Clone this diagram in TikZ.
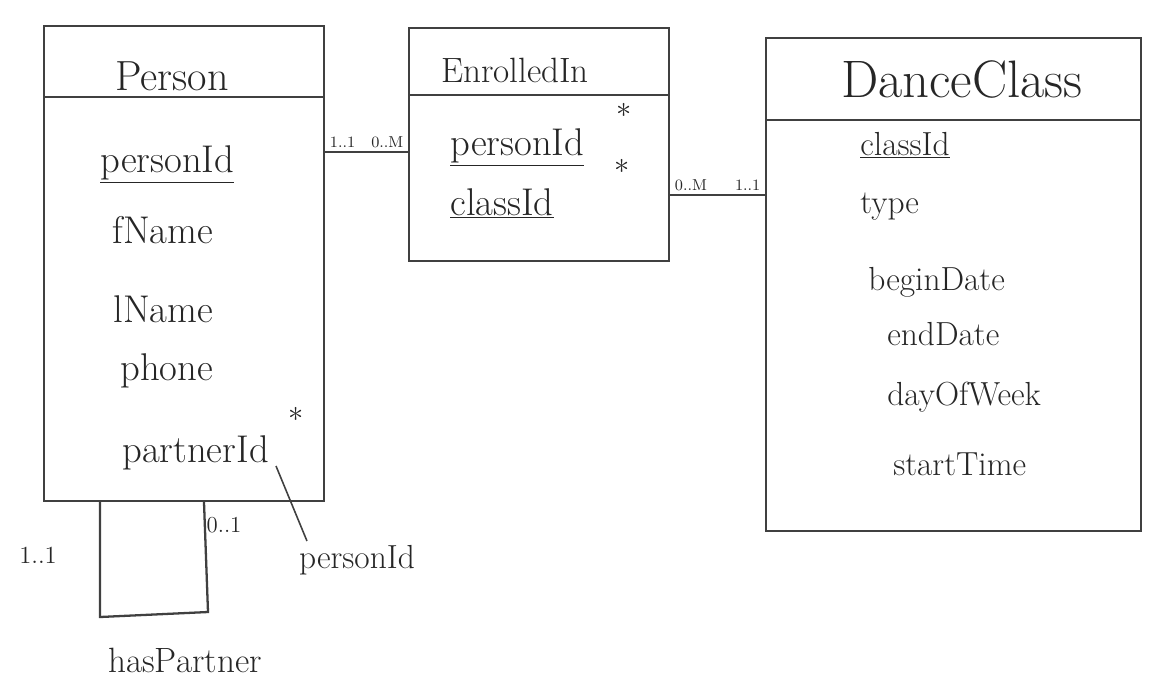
\documentclass[tikz,border=0pt]{standalone}
\usetikzlibrary{calc}
\tikzstyle{entity}=[draw,line width=1.3pt,black!75,rectangle,inner sep=0pt,anchor=north west]
\tikzstyle{entitytitle}=[anchor=base,text=black!85,inner sep=0pt]
\tikzstyle{attr}=[anchor=base west,text=black!85,inner sep=0pt,font=\fontsize{22}{26}\selectfont]
\tikzstyle{smallattr}=[attr,font=\fontsize{19}{23}\selectfont]
\tikzstyle{card}=[text=black!85,font=\fontsize{9}{11}\selectfont,inner sep=2pt]
\tikzstyle{fkstar}=[text=black!85,font=\fontsize{18}{18}\selectfont,inner sep=0pt]
\tikzstyle{undirectededge} = [draw,line width=1.3pt,black!75]
\tikzstyle{note}=[text=black!85,font=\fontsize{19}{23}\selectfont]

\begin{document}
\begin{tikzpicture}[x=0.02cm,y=-0.02cm]
\useasboundingbox (0,0) rectangle (1152,684);

% tables
\node[entity,minimum width=5.6cm,minimum height=9.5cm] (person) at (43,25) {};
\node[entity,minimum width=5.2cm,minimum height=4.66cm] (enrolled) at (408,27) {};
\node[entity,minimum width=7.5cm,minimum height=9.86cm] (dance) at (765,37) {};

% header rules
\foreach \ent/\y in {person/97, enrolled/95, dance/120}
    \draw[undirectededge] (\ent.west |- 0,\y) -- (\ent.east |- 0,\y);

\foreach \pos/\name/\size/\txt in {{(172,90)/ptitle/24/Person}, {(515,82)/etitle/20/EnrolledIn}, {(962,97)/dtitle/30/DanceClass}}
    \node[entitytitle,font=\fontsize{\size}{\size}\selectfont] (\name) at \pos {\txt};

% attributes
\foreach \pos/\name/\txt in {{(100,172)/pid/\underline{personId}}, {(112,243)/fname/fName}, {(113,322)/lname/lName}, {(120,380)/phone/phone}, {(122,462)/partner/partnerId}, {(450,155)/epid/\underline{personId}}, {(450,215)/ecid/\underline{classId}}}
    \node[attr] (\name) at \pos {\txt};

\foreach \pos/\name/\txt in {{(860,155)/cid/\underline{classId}}, {(860,213)/type/type}, {(868,290)/bdate/beginDate}, {(887,345)/edate/endDate}, {(887,405)/dow/dayOfWeek}, {(893,475)/stime/startTime}}
    \node[smallattr] (\name) at \pos {\txt};

% foreign keys
\foreach \pos/\name in {{(296,414)/s1}, {(624,110)/s2}, {(622,166)/s3}}
    \node[fkstar] (\name) at \pos {$\ast$};

% relationships
\foreach \source/\dest/\y/\a/\b in {person/enrolled/152/{1..1}/{0..M}, enrolled/dance/195/{0..M}/{1..1}}
    \path[undirectededge] (\source.east |- 0,\y) -- node[card,above right,pos=0] {\a} node[card,above left,pos=1] {\b} (\dest.west |- 0,\y);

% recursive hasPartner
\coordinate (hpleft) at (100,617);
\coordinate (hpright) at (208,612);
\draw[undirectededge] (person.south -| 100,0) -- (hpleft) -- (hpright) -- (person.south -| 204,0);
\node[card,font=\fontsize{14}{16}\selectfont] (one) at (38,555) {1..1};
\node[card,font=\fontsize{13}{15}\selectfont] (zeroone) at (224,525) {0..1};
\node[note,font=\fontsize{20}{24}\selectfont] (hp) at (185,660) {hasPartner};

\node[note] (pidnote) at (357,560) {personId};
\coordinate (ptr) at (276,466);
\draw[undirectededge,line width=0.9pt] ($(pidnote.north west)+(14,2)$) -- (ptr);

\end{tikzpicture}
\end{document}
